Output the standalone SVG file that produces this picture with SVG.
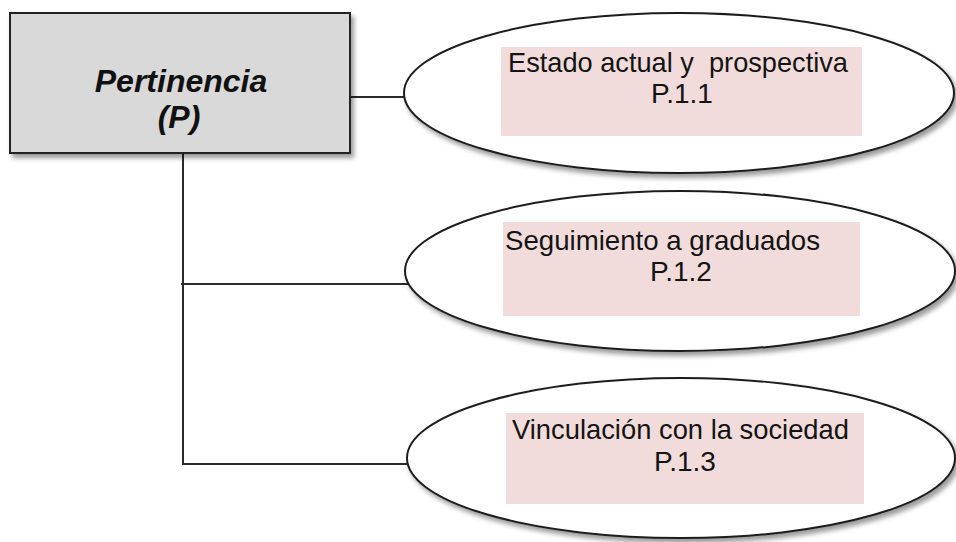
<svg xmlns="http://www.w3.org/2000/svg" width="956" height="542" viewBox="0 0 956 542">
<defs>
<filter id="sh" x="-10%" y="-10%" width="130%" height="130%">
<feDropShadow dx="3" dy="4" stdDeviation="2.5" flood-color="#000" flood-opacity="0.4"/>
</filter>
</defs>
<style>
.conn{stroke:#2a2a2a;stroke-width:2;fill:none}
.ell{fill:#fff;stroke:#1e1e1e;stroke-width:2;filter:url(#sh)}
.lab{fill:#f2dcdb}
.t{font-family:"Liberation Sans",Arial,sans-serif;font-size:28px;fill:#141414}
.main{font-family:"Liberation Sans",Arial,sans-serif;font-size:32px;font-weight:bold;font-style:italic;fill:#111;text-anchor:middle}
</style>
<rect width="956" height="542" fill="#fff"/>
<g id="connectors">
<line class="conn" x1="350" y1="97" x2="404" y2="97"/>
<polyline class="conn" points="183,153 183,464 409,464"/>
<line class="conn" x1="181" y1="284" x2="408" y2="284"/>
</g>
<g id="node-P">
<rect x="10" y="13" width="340" height="140" fill="#d9d9d9" stroke="#222" stroke-width="2" filter="url(#sh)"/>
<text class="main" x="181" y="92">Pertinencia</text>
<text class="main" x="179" y="128">(P)</text>
</g>
<g id="node-P11">
<ellipse class="ell" cx="679" cy="93" rx="275" ry="80"/>
<rect class="lab" x="501" y="47" width="361" height="89"/>
<text class="t" x="508" y="72" textLength="340" lengthAdjust="spacingAndGlyphs" xml:space="preserve">Estado actual y  prospectiva</text>
<text class="t" x="682" y="103" text-anchor="middle">P.1.1</text>
</g>
<g id="node-P12">
<ellipse class="ell" cx="680" cy="271" rx="275" ry="80"/>
<rect class="lab" x="503" y="222" width="357" height="94"/>
<text class="t" x="505" y="250" textLength="315" lengthAdjust="spacingAndGlyphs">Seguimiento a graduados</text>
<text class="t" x="681" y="281" text-anchor="middle">P.1.2</text>
</g>
<g id="node-P13">
<ellipse class="ell" cx="681" cy="458" rx="274" ry="80"/>
<rect class="lab" x="506" y="413" width="358" height="91"/>
<text class="t" x="512" y="439" textLength="337" lengthAdjust="spacingAndGlyphs">Vinculación con la sociedad</text>
<text class="t" x="685" y="471" text-anchor="middle">P.1.3</text>
</g>
</svg>
